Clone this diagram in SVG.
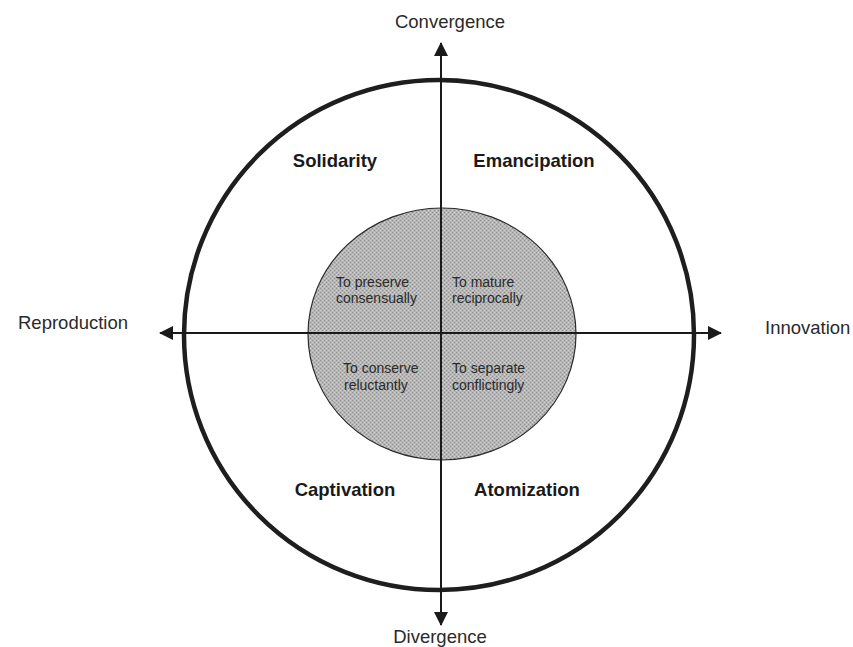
<svg xmlns="http://www.w3.org/2000/svg" width="853" height="647" viewBox="0 0 853 647">
<style>
.axis{stroke:#1a1a1a;stroke-width:2;fill:none}
.quad{font-family:"Liberation Sans",Arial,sans-serif;font-size:18.5px;font-weight:bold;fill:#1a1a1a;text-anchor:middle}
.pole{font-family:"Liberation Sans",Arial,sans-serif;font-size:18.5px;fill:#2a2a2a}
.inner{font-family:"Liberation Sans",Arial,sans-serif;font-size:14px;fill:#2a2a2a}
</style>
<defs>
<pattern id="stip" width="4" height="4" patternUnits="userSpaceOnUse">
<rect width="4" height="4" fill="#b6b6b6"/>
<rect x="0" y="0" width="1" height="1" fill="#8c8c8c"/>
<rect x="2" y="2" width="1" height="1" fill="#8c8c8c"/>
<rect x="2" y="0" width="1" height="1" fill="#d4d4d4"/>
<rect x="0" y="2" width="1" height="1" fill="#d4d4d4"/>
</pattern>
<marker id="arrh" viewBox="0 0 14 14" refX="13" refY="7" markerWidth="14" markerHeight="14" orient="auto-start-reverse" markerUnits="userSpaceOnUse">
<path d="M0,0 L14,7 L0,14 z" fill="#1a1a1a"/>
</marker>
</defs>
<rect width="853" height="647" fill="#ffffff"/>
<g id="outer-circle">
<circle cx="439" cy="335" r="255" fill="none" stroke="#1e1e1e" stroke-width="4.5"/>
</g>
<g id="inner-circle">
<ellipse cx="442" cy="334" rx="134" ry="126" fill="url(#stip)" stroke="#2a2a2a" stroke-width="1.2"/>
</g>
<g id="connectors">
<line class="axis" x1="441" y1="625" x2="441" y2="43" marker-start="url(#arrh)" marker-end="url(#arrh)"/>
<line class="axis" x1="160" y1="333" x2="721" y2="333" marker-start="url(#arrh)" marker-end="url(#arrh)"/>
</g>
<g id="label-convergence"><text class="pole" x="450" y="28" text-anchor="middle">Convergence</text></g>
<g id="label-divergence"><text class="pole" x="440" y="643" text-anchor="middle">Divergence</text></g>
<g id="label-reproduction"><text class="pole" x="18" y="329">Reproduction</text></g>
<g id="label-innovation"><text class="pole" x="765" y="334">Innovation</text></g>
<g id="q-solidarity"><text class="quad" x="335" y="167">Solidarity</text></g>
<g id="q-emancipation"><text class="quad" x="534" y="167">Emancipation</text></g>
<g id="q-captivation"><text class="quad" x="345" y="496">Captivation</text></g>
<g id="q-atomization"><text class="quad" x="527" y="496">Atomization</text></g>
<g id="i-preserve"><text class="inner" x="336" y="287">To preserve<tspan x="336" y="303">consensually</tspan></text></g>
<g id="i-mature"><text class="inner" x="452" y="287">To mature<tspan x="452" y="303">reciprocally</tspan></text></g>
<g id="i-conserve"><text class="inner" x="343" y="373">To conserve<tspan x="344" y="390">reluctantly</tspan></text></g>
<g id="i-separate"><text class="inner" x="452" y="373">To separate<tspan x="452" y="390">conflictingly</tspan></text></g>
</svg>
